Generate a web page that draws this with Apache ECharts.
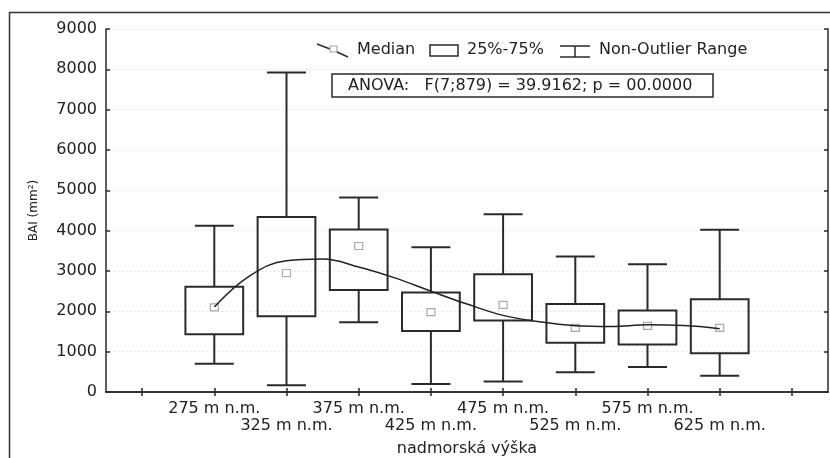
<!DOCTYPE html>
<html>
<head>
<meta charset="utf-8">
<title>BAI - nadmorská výška</title>
<script src="https://cdn.jsdelivr.net/npm/echarts@6/dist/echarts.min.js"></script>
<style>
  html, body { margin: 0; padding: 0; background: #fff; }
  #chart { width: 830px; height: 458px; }
</style>
</head>
<body>
<div id="chart"></div>
<script>
// kategorie (nadmorská výška)
var categories = ['275 m n.m.', '325 m n.m.', '375 m n.m.', '425 m n.m.', '475 m n.m.', '525 m n.m.', '575 m n.m.', '625 m n.m.'];
var yTicks = [0, 1000, 2000, 3000, 4000, 5000, 6000, 7000, 8000, 9000];

// BAI (mm2) - odhad z obrázku
var whiskerLow  = [700, 170, 1730, 200, 260, 490, 620, 400];
var q1          = [1430, 1880, 2530, 1510, 1770, 1220, 1180, 960];
var median      = [2100, 2950, 3620, 1980, 2160, 1590, 1640, 1590];
var q3          = [2610, 4340, 4030, 2470, 2920, 2180, 2020, 2300];
var whiskerHigh = [4120, 7920, 4820, 3590, 4410, 3360, 3170, 4020];

// vyhlazená krivka cez mediany
var curveX = [275, 300, 325, 350, 375, 400, 425, 450, 475, 500, 525, 550, 575, 600, 625];
var curveY = [2110, 2890, 3255, 3295, 3100, 2830, 2500, 2180, 1900, 1740, 1645, 1625, 1665, 1650, 1570];

var FONT = 'DejaVu Sans';
var DARK = '#2a2a2a';

// prázdne miesto na kraji osi
var axisData = [''].concat(categories).concat(['']);

var boxData = categories.map(function (c, i) {
  return [i + 1, whiskerLow[i], q1[i], median[i], q3[i], whiskerHigh[i]];
});
var curveData = curveX.map(function (x, i) {
  return [x, curveY[i]];
});

function renderBox(params, api) {
  var idx = api.value(0);
  var lo = api.coord([idx, api.value(1)]);
  var b1 = api.coord([idx, api.value(2)]);
  var md = api.coord([idx, api.value(3)]);
  var b3 = api.coord([idx, api.value(4)]);
  var hi = api.coord([idx, api.value(5)]);
  var band = api.size([1, 0])[0];
  var bw = band * 0.8;
  var cw = band * 0.54;
  var x = b1[0];
  var st = { stroke: DARK, lineWidth: 2, fill: null };
  return {
    type: 'group',
    children: [
      { type: 'line', shape: { x1: x, y1: hi[1], x2: x, y2: b3[1] }, style: st },
      { type: 'line', shape: { x1: x, y1: b1[1], x2: x, y2: lo[1] }, style: st },
      { type: 'line', shape: { x1: x - cw / 2, y1: hi[1], x2: x + cw / 2, y2: hi[1] }, style: st },
      { type: 'line', shape: { x1: x - cw / 2, y1: lo[1], x2: x + cw / 2, y2: lo[1] }, style: st },
      { type: 'rect', shape: { x: x - bw / 2, y: b3[1], width: bw, height: b1[1] - b3[1] }, style: st },
      { type: 'rect', shape: { x: md[0] - 4, y: md[1] - 3.5, width: 8, height: 7 },
        style: { stroke: '#a8a8a8', lineWidth: 1.2, fill: '#fff' } }
    ]
  };
}

var chart = echarts.init(document.getElementById('chart'));

function ticks() {
  return { show: true, alignWithLabel: true, interval: 0, inside: true, length: 4, lineStyle: { color: DARK, width: 1.5 } };
}

var option = {
  animation: false,
  backgroundColor: '#fff',
  textStyle: { fontFamily: FONT, color: '#222' },
  grid: { left: 106, right: 2, top: 29, bottom: 66, containLabel: false, outerBoundsMode: 'none' },
  xAxis: [
    {
      type: 'category',
      data: axisData,
      position: 'bottom',
      boundaryGap: true,
      name: 'nadmorská výška',
      nameLocation: 'middle',
      nameGap: 49,
      nameTextStyle: { fontFamily: FONT, fontSize: 16, color: '#222' },
      axisLine: { lineStyle: { color: DARK, width: 1.5 } },
      axisTick: ticks(),
      axisLabel: {
        interval: 0,
        margin: 8,
        fontFamily: FONT,
        fontSize: 16,
        lineHeight: 17,
        color: '#222',
        formatter: function (v, i) {
          // stridavo v dvoch riadkoch
          return (i % 2 === 0 && v) ? '\n' + v : v;
        }
      },
      splitLine: { show: false }
    },
    {
      type: 'category',
      data: axisData,
      position: 'top',
      boundaryGap: true,
      axisLine: { lineStyle: { color: DARK, width: 1.5 } },
      axisTick: ticks(),
      axisLabel: { show: false },
      splitLine: { show: false }
    },
    {
      type: 'value',
      min: 200,
      max: 700,
      show: false
    }
  ],
  yAxis: [
    {
      type: 'value',
      min: yTicks[0],
      max: yTicks[yTicks.length - 1],
      interval: 1000,
      name: 'BAI (mm²)',
      nameLocation: 'middle',
      nameGap: 66,
      nameTextStyle: { fontFamily: FONT, fontSize: 12, color: '#222' },
      axisLine: { show: true, lineStyle: { color: DARK, width: 1.5 } },
      axisTick: { show: true, inside: true, length: 4, lineStyle: { color: DARK, width: 1.5 } },
      axisLabel: {
        margin: 9, fontFamily: FONT, fontSize: 16, color: '#222',
        formatter: function (v) { return String(v); }
      },
      splitLine: { show: true, lineStyle: { color: '#d4d4d4', type: [1, 3], width: 1 } }
    },
    {
      type: 'value',
      position: 'right',
      min: yTicks[0],
      max: yTicks[yTicks.length - 1],
      interval: 1000,
      axisLine: { show: true, lineStyle: { color: DARK, width: 1.5 } },
      axisTick: { show: true, inside: true, length: 4, lineStyle: { color: DARK, width: 1.5 } },
      axisLabel: { show: false },
      splitLine: { show: false }
    }
  ],
  series: [
    {
      type: 'custom',
      name: 'BAI',
      xAxisIndex: 0,
      yAxisIndex: 0,
      renderItem: renderBox,
      encode: { x: 0, y: [1, 2, 3, 4, 5] },
      data: boxData,
      z: 2
    },
    {
      type: 'line',
      name: 'Median',
      xAxisIndex: 2,
      yAxisIndex: 0,
      data: curveData,
      smooth: 0.4,
      symbol: 'none',
      lineStyle: { color: '#222', width: 1.5 },
      z: 3
    }
  ],
  graphic: [
    // vonkajší rámik
    { type: 'rect', left: 7, top: 10, shape: { width: 900, height: 500 },
      style: { stroke: '#333', lineWidth: 1.5, fill: null }, silent: true },
    // legenda
    { type: 'polyline', shape: { points: [[317, 44], [330, 49]] }, style: { stroke: DARK, lineWidth: 1.4, fill: null } },
    { type: 'rect', shape: { x: 330, y: 46, width: 7, height: 6 }, style: { stroke: '#a8a8a8', lineWidth: 1.2, fill: '#fff' } },
    { type: 'polyline', shape: { points: [[337, 52], [348, 57]] }, style: { stroke: DARK, lineWidth: 1.4, fill: null } },
    { type: 'text', x: 357, y: 50, style: { text: 'Median', fontFamily: FONT, fontSize: 16, fill: '#222', verticalAlign: 'middle' } },
    { type: 'rect', shape: { x: 430, y: 45, width: 28, height: 11 }, style: { stroke: DARK, lineWidth: 1.5, fill: null } },
    { type: 'text', x: 467, y: 50, style: { text: '25%-75%', fontFamily: FONT, fontSize: 16, fill: '#222', verticalAlign: 'middle' } },
    { type: 'line', shape: { x1: 560, y1: 46, x2: 590, y2: 46 }, style: { stroke: DARK, lineWidth: 1.5 } },
    { type: 'line', shape: { x1: 575, y1: 46, x2: 575, y2: 57 }, style: { stroke: DARK, lineWidth: 1.5 } },
    { type: 'line', shape: { x1: 560, y1: 57, x2: 590, y2: 57 }, style: { stroke: DARK, lineWidth: 1.5 } },
    { type: 'text', x: 599, y: 50, style: { text: 'Non-Outlier Range', fontFamily: FONT, fontSize: 16, fill: '#222', verticalAlign: 'middle' } },
    // ANOVA
    { type: 'rect', shape: { x: 332, y: 74, width: 381, height: 23 }, style: { stroke: DARK, lineWidth: 1.5, fill: '#fff' } },
    { type: 'text', x: 348, y: 86, style: { text: 'ANOVA:   F(7;879) = 39.9162; p = 00.0000', fontFamily: FONT, fontSize: 16, fill: '#222', verticalAlign: 'middle' } }
  ]
};

chart.setOption(option);
</script>
</body>
</html>
